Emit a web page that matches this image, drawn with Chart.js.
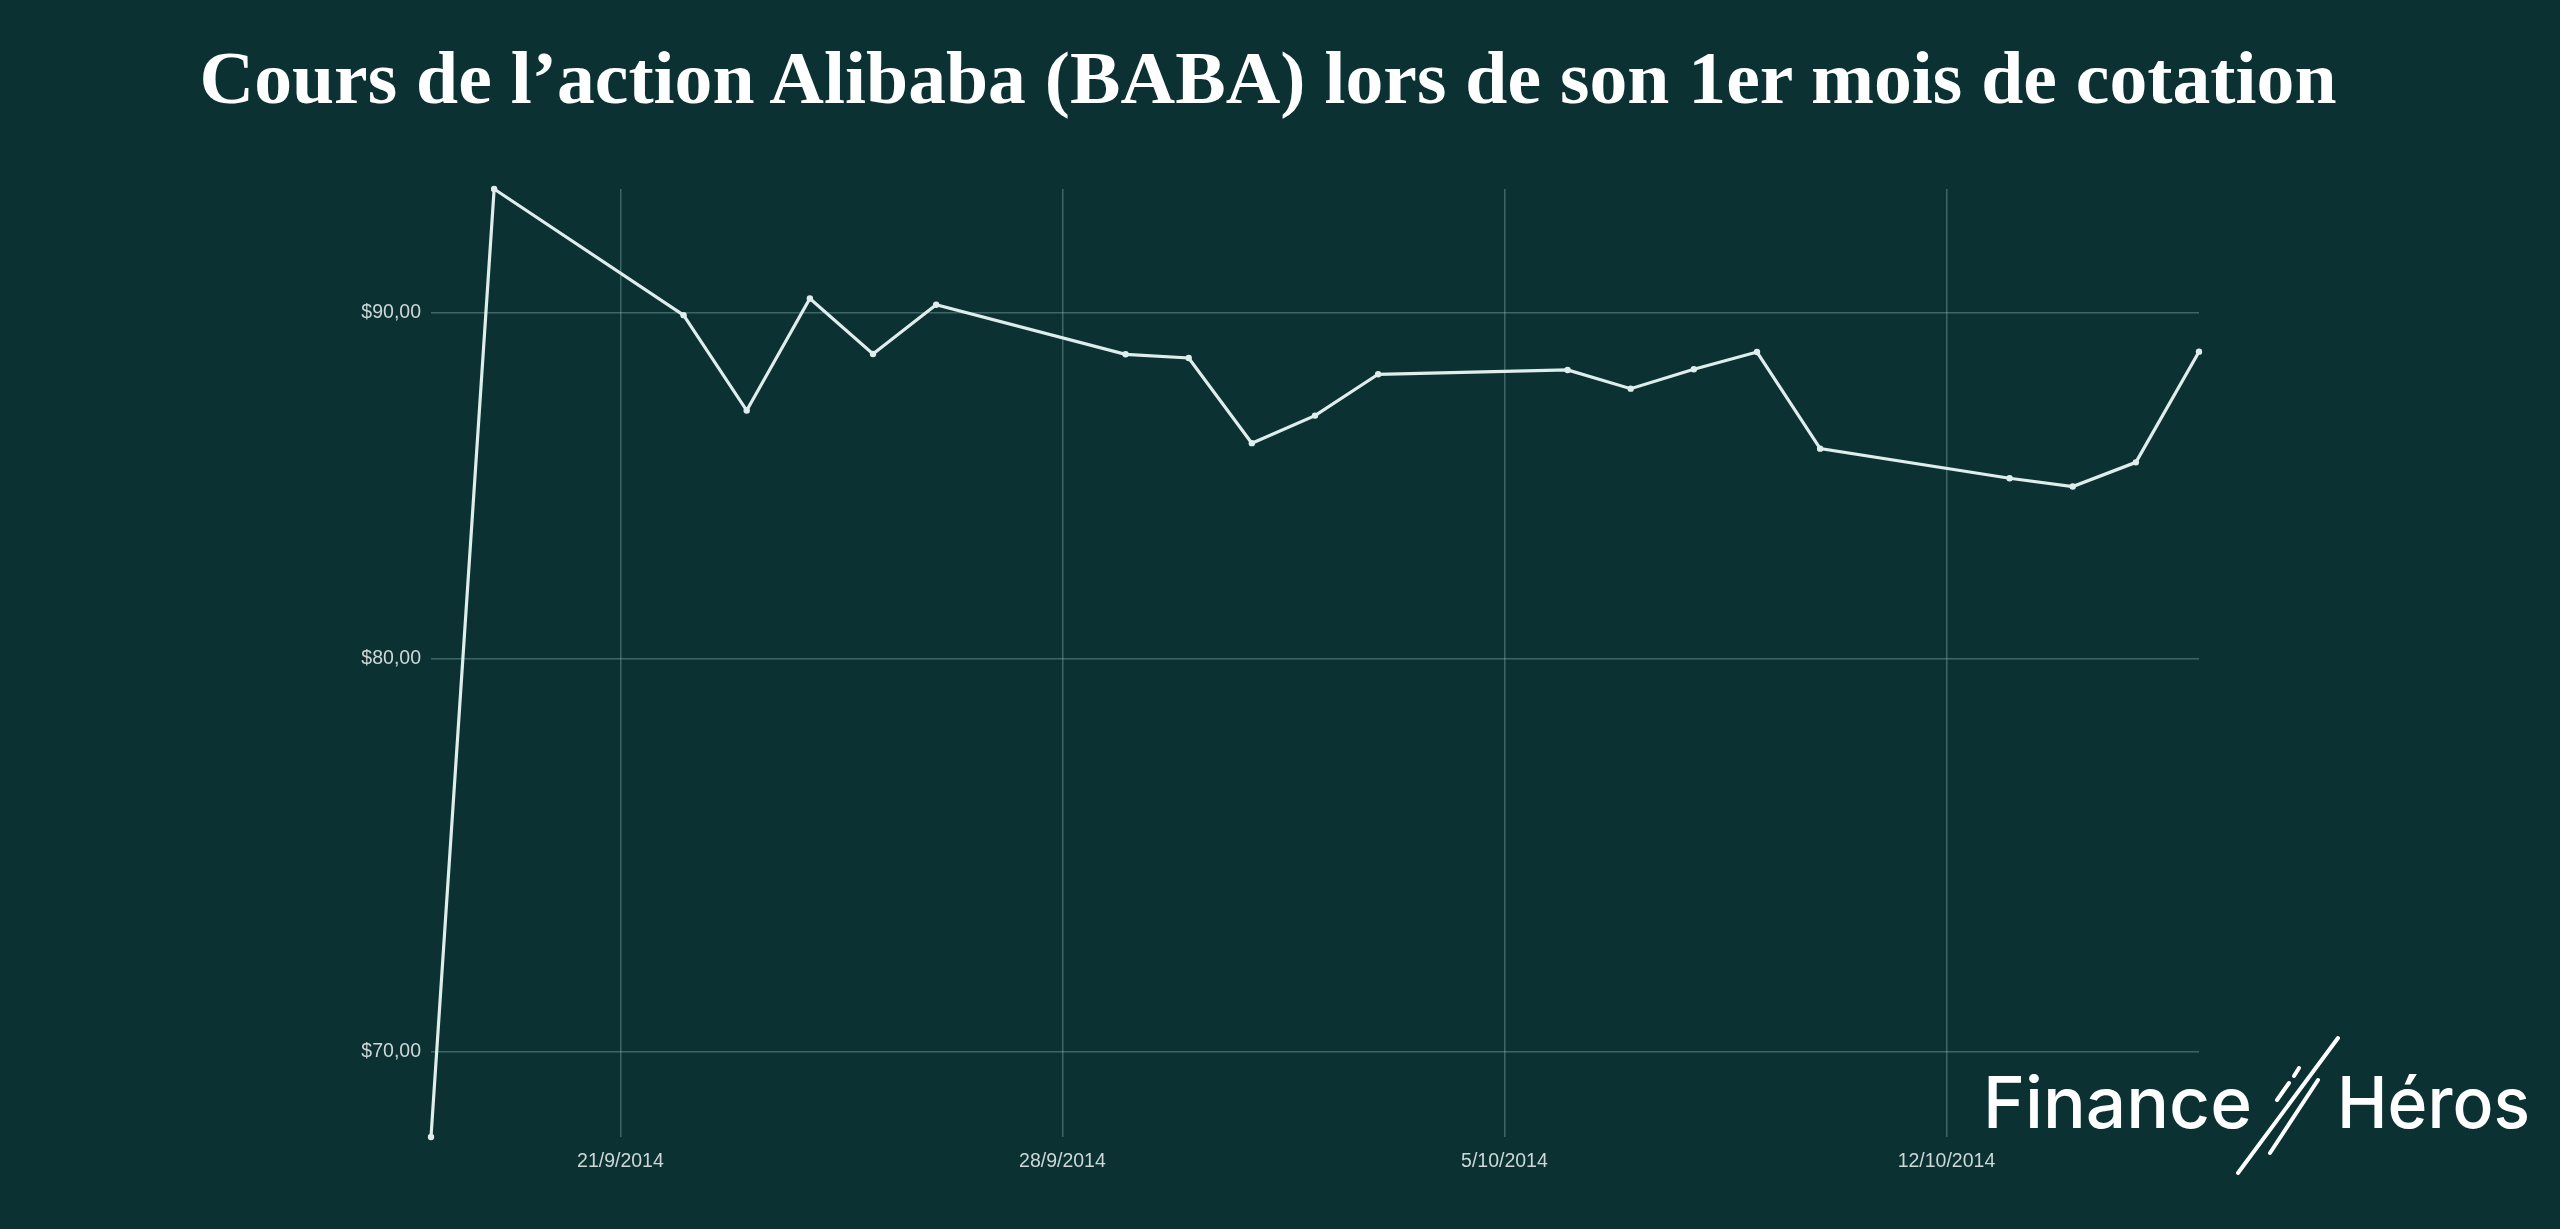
<!DOCTYPE html>
<html>
<head>
<meta charset="utf-8">
<script src="https://cdn.jsdelivr.net/npm/chart.js@4.4.1/dist/chart.umd.min.js"></script>
<style>
  html, body { margin:0; padding:0; background:#0b3133; width:2560px; height:1229px; overflow:hidden; }
  #wrap { position:relative; width:2560px; height:1229px; }
  canvas { position:absolute; left:0; top:0; }
  svg { position:absolute; left:0; top:0; pointer-events:none; }
</style>
</head>
<body>
<div id="wrap">
  <canvas id="c" width="2560" height="1229"></canvas>
  <svg width="2560" height="1229">
    <text x="1268" y="103" text-anchor="middle" textLength="2137" lengthAdjust="spacingAndGlyphs"
          font-family="Liberation Serif" font-weight="bold" font-size="75" fill="#ffffff">Cours de l’action Alibaba (BABA) lors de son 1er mois de cotation</text>
    <text x="1983" y="1128" textLength="269" lengthAdjust="spacingAndGlyphs"
          font-family="Inter" font-weight="500" font-size="71" fill="#ffffff">Finance</text>
    <text x="2337" y="1128" textLength="193" lengthAdjust="spacingAndGlyphs"
          font-family="Inter" font-weight="500" font-size="71" fill="#ffffff">Héros</text>
    <line x1="2338" y1="1038" x2="2238" y2="1173" stroke="#ffffff" stroke-width="4" stroke-linecap="round"/>
    <line x1="2318" y1="1080" x2="2270" y2="1153" stroke="#ffffff" stroke-width="4" stroke-linecap="round"/>
    <line x1="2299" y1="1068" x2="2294" y2="1076" stroke="#ffffff" stroke-width="4" stroke-linecap="round"/>
    <line x1="2289" y1="1083" x2="2277" y2="1100" stroke="#ffffff" stroke-width="4" stroke-linecap="round"/>
  </svg>
</div>
<script>
const dates = ['2014-09-18','2014-09-19','2014-09-22','2014-09-23','2014-09-24','2014-09-25','2014-09-26',
               '2014-09-29','2014-09-30','2014-10-01','2014-10-02','2014-10-03',
               '2014-10-06','2014-10-07','2014-10-08','2014-10-09','2014-10-10',
               '2014-10-13','2014-10-14','2014-10-15','2014-10-16'];
const prices = [68.00, 93.86, 89.92, 87.05, 90.43, 88.74, 90.24,
                88.73, 88.62, 86.09, 86.90, 88.13,
                88.26, 87.70, 88.28, 88.80, 85.93,
                85.07, 84.83, 85.53, 88.81];
const xTickDates = ['2014-09-21','2014-09-28','2014-10-05','2014-10-12'];
const yTickValues = [70, 80, 90];

const dayNum = s => { const p = s.split('-').map(Number); return Date.UTC(p[0], p[1]-1, p[2]) / 86400000; };
const fmtDay = v => { const d = new Date(v * 86400000); return d.getUTCDate() + '/' + (d.getUTCMonth()+1) + '/' + d.getUTCFullYear(); };
const fmtPrice = v => '$' + Number(v).toFixed(2).replace('.', ',');

const points = dates.map((d, i) => ({ x: dayNum(d), y: prices[i] }));
const gridColor = 'rgba(150,190,190,0.38)';
const labelColor = '#cdd8d6';
const tickFont = { family: 'Liberation Sans', size: 19.5 };

new Chart(document.getElementById('c'), {
  type: 'line',
  data: {
    datasets: [{
      data: points,
      borderColor: '#dfeeed',
      borderWidth: 3.2,
      pointRadius: 3.2,
      pointBackgroundColor: '#dfeeed',
      pointBorderWidth: 0,
      tension: 0,
      clip: false
    }]
  },
  options: {
    responsive: false,
    animation: false,
    devicePixelRatio: 1,
    layout: { autoPadding: false, padding: { top: 189, right: 361, bottom: 0, left: 0 } },
    plugins: { legend: { display: false }, tooltip: { enabled: false }, title: { display: false } },
    scales: {
      x: {
        type: 'linear',
        min: dayNum(dates[0]),
        max: dayNum(dates[dates.length - 1]),
        afterBuildTicks: s => { s.ticks = xTickDates.map(d => ({ value: dayNum(d) })); },
        afterFit: s => { s.height = 92; },
        ticks: { callback: v => fmtDay(v), color: labelColor, font: tickFont, padding: 13, maxRotation: 0, autoSkip: false },
        grid: { color: gridColor, lineWidth: 1.5, drawTicks: false },
        border: { display: false }
      },
      y: {
        type: 'logarithmic',
        min: 68,
        max: Math.max(...prices),
        afterBuildTicks: s => { s.ticks = yTickValues.map(v => ({ value: v })); },
        afterFit: s => { s.width = 431; },
        ticks: { callback: v => fmtPrice(v), color: labelColor, font: tickFont, padding: 10, autoSkip: false },
        grid: { color: gridColor, lineWidth: 1.5, drawTicks: false },
        border: { display: false }
      }
    }
  }
});
</script>
</body>
</html>
